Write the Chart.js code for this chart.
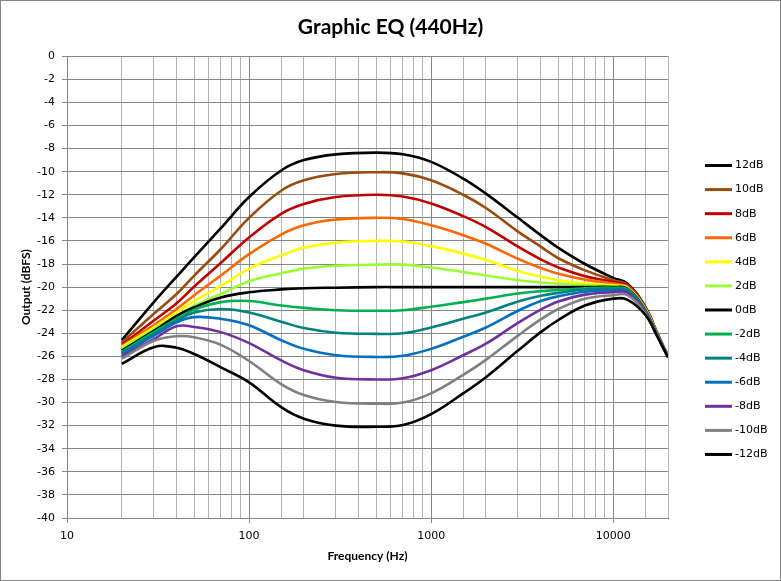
<!DOCTYPE html>
<html>
<head>
<meta charset="utf-8">
<title>Graphic EQ (440Hz)</title>
<script src="https://cdn.jsdelivr.net/npm/chart.js@4.4.1/dist/chart.umd.min.js"></script>
<style>
  html, body { margin: 0; padding: 0; background: #fff; }
  canvas { display: block; }
</style>
</head>
<body>
<canvas id="eqChart" width="781" height="581"></canvas>
<script>
// frequencies (Hz) the curves were read at
const freqs = [20, 30, 40, 50, 70, 100, 150, 200, 300, 500, 700, 1000, 1500, 2000, 3000, 4000, 5000, 7000, 10000, 12000, 15000, 17500, 20000];

const seriesNames = ['12dB', '10dB', '8dB', '6dB', '4dB', '2dB', '0dB', '-2dB', '-4dB', '-6dB', '-8dB', '-10dB', '-12dB'];

// output level (dBFS) per curve
const gain12  = [-24.6, -21.3, -19.1, -17.4, -14.9, -12.2, -9.9, -9.0, -8.5, -8.35, -8.5, -9.15, -10.6, -11.9, -14.0, -15.5, -16.6, -18.0, -19.2, -19.7, -21.7, -24.0, -26.0];
const gain10  = [-24.8, -22.3, -20.6, -19.0, -16.7, -14.0, -11.65, -10.75, -10.2, -10.05, -10.15, -10.75, -12.0, -13.15, -15.2, -16.5, -17.5, -18.55, -19.4, -19.8, -21.75, -24.05, -26.0];
const gain8   = [-25.0, -22.9, -21.4, -19.95, -17.9, -15.7, -13.65, -12.8, -12.2, -12.0, -12.15, -12.75, -13.85, -14.8, -16.5, -17.6, -18.3, -19.05, -19.55, -19.9, -21.8, -24.1, -26.0];
const gain6   = [-25.1, -23.3, -21.9, -20.7, -19.0, -17.15, -15.45, -14.65, -14.15, -14.0, -14.1, -14.65, -15.5, -16.25, -17.55, -18.35, -18.85, -19.35, -19.7, -20.0, -21.85, -24.1, -26.0];
const gain4   = [-25.2, -23.5, -22.2, -21.2, -19.9, -18.4, -17.25, -16.6, -16.15, -16.0, -16.05, -16.45, -17.1, -17.65, -18.6, -19.1, -19.4, -19.7, -19.85, -20.05, -21.9, -24.15, -26.0];
const gain2   = [-25.35, -23.65, -22.5, -21.6, -20.6, -19.5, -18.8, -18.4, -18.15, -18.05, -18.05, -18.3, -18.7, -19.0, -19.4, -19.6, -19.7, -19.85, -19.95, -20.1, -21.95, -24.15, -26.0];
const gain0   = [-25.5, -23.8, -22.5, -21.75, -20.9, -20.45, -20.2, -20.1, -20.05, -20.0, -20.0, -20.0, -20.0, -20.0, -20.0, -20.0, -20.0, -20.0, -20.0, -20.15, -22.0, -24.2, -26.0];
const gainM2  = [-25.6, -23.9, -22.75, -21.95, -21.3, -21.2, -21.6, -21.8, -22.0, -22.05, -22.0, -21.7, -21.3, -21.0, -20.55, -20.35, -20.25, -20.1, -20.05, -20.2, -22.05, -24.2, -26.0];
const gainM4  = [-25.7, -24.05, -22.9, -22.2, -21.9, -22.2, -23.0, -23.55, -23.95, -24.05, -24.0, -23.5, -22.75, -22.2, -21.25, -20.75, -20.5, -20.2, -20.15, -20.3, -22.1, -24.2, -26.0];
const gainM6  = [-25.8, -24.2, -23.05, -22.6, -22.75, -23.3, -24.6, -25.35, -25.9, -26.05, -25.95, -25.35, -24.3, -23.5, -22.05, -21.2, -20.8, -20.4, -20.3, -20.4, -22.15, -24.25, -26.0];
const gainM8  = [-26.0, -24.5, -23.4, -23.45, -23.9, -24.85, -26.35, -27.2, -27.85, -28.0, -27.9, -27.2, -25.9, -24.9, -23.1, -21.95, -21.25, -20.65, -20.45, -20.5, -22.2, -24.25, -26.0];
const gainM10 = [-26.2, -24.65, -24.25, -24.35, -25.0, -26.4, -28.4, -29.35, -29.95, -30.1, -30.0, -29.2, -27.6, -26.3, -24.2, -22.8, -21.9, -21.0, -20.7, -20.7, -22.3, -24.3, -26.05];
const gainM12 = [-26.65, -25.2, -25.25, -25.8, -26.95, -28.25, -30.4, -31.4, -32.0, -32.1, -31.95, -31.0, -29.2, -27.8, -25.5, -23.9, -22.85, -21.6, -21.0, -21.1, -22.4, -24.3, -26.1];

const xTickLabels = [10, 100, 1000, 10000];

const allSeries = [gain12, gain10, gain8, gain6, gain4, gain2, gain0, gainM2, gainM4, gainM6, gainM8, gainM10, gainM12];
const colors = ['#000000', '#9b4b0f', '#c00000', '#ff6600', '#ffff00', '#99ff33', '#000000',
                '#00b050', '#00827f', '#0070c0', '#7030a0', '#808080', '#000000'];

const datasets = allSeries.map((vals, i) => ({
  label: seriesNames[i],
  data: freqs.map((f, j) => ({ x: f, y: vals[j] })),
  borderColor: colors[i],
  backgroundColor: colors[i],
  borderWidth: 2.6,
  pointRadius: 0,
  tension: 0.4,
  order: allSeries.length - i
}));

const GRID_DARK = '#868686';
const GRID_LIGHT = '#b4b4b4';
const TICK_FONT = { family: 'DejaVu Sans', size: 11 };
const AXIS_TITLE_FONT = { family: 'Lato', size: 12, weight: 'bold' };

// white page with a thin frame, like the spreadsheet chart
const frame = {
  id: 'frame',
  beforeDraw(chart) {
    const c = chart.ctx;
    c.save();
    c.fillStyle = '#fff';
    c.fillRect(0, 0, chart.width, chart.height);
    c.strokeStyle = GRID_DARK;
    c.lineWidth = 1;
    c.strokeRect(0.5, 0.5, chart.width - 1, chart.height - 1);
    c.restore();
  }
};

// legend column on the right
const sideLegend = {
  id: 'sideLegend',
  afterDraw(chart) {
    const c = chart.ctx;
    c.save();
    c.font = '11px "DejaVu Sans"';
    c.textBaseline = 'middle';
    c.textAlign = 'left';
    chart.data.datasets.forEach((ds, i) => {
      const y = 165.5 + i * 24.08;
      c.strokeStyle = ds.borderColor;
      c.lineWidth = 3;
      c.beginPath();
      c.moveTo(705, y);
      c.lineTo(732, y);
      c.stroke();
      c.fillStyle = '#000';
      c.fillText(ds.label, 735, y);
    });
    c.restore();
  }
};

new Chart(document.getElementById('eqChart'), {
  type: 'line',
  data: { datasets: datasets },
  options: {
    responsive: false,
    animation: false,
    devicePixelRatio: 1,
    layout: { padding: 0 },
    plugins: {
      legend: { display: false },
      tooltip: { enabled: false },
      title: {
        display: true,
        text: 'Graphic EQ (440Hz)',
        color: '#000',
        font: { family: 'Lato', size: 21, weight: 'bold' },
        padding: { top: 15, bottom: 16 }
      }
    },
    scales: {
      x: {
        type: 'logarithmic',
        min: 10,
        max: 20000,
        afterFit(scale) { scale.height = 63; },
        grid: {
          color: ctx => xTickLabels.includes(ctx.tick.value) ? GRID_DARK : GRID_LIGHT,
          tickColor: ctx => xTickLabels.includes(ctx.tick.value) ? GRID_DARK : 'rgba(0,0,0,0)',
          tickLength: 5,
          lineWidth: 1
        },
        border: { color: GRID_DARK },
        ticks: {
          autoSkip: false,
          maxRotation: 0,
          padding: 7,
          color: '#000',
          font: TICK_FONT,
          callback: v => xTickLabels.includes(v) ? String(v) : ''
        },
        title: {
          display: true,
          text: 'Frequency (Hz)',
          color: '#000',
          font: AXIS_TITLE_FONT,
          padding: { top: 0, bottom: 18 }
        }
      },
      y: {
        min: -40,
        max: 0,
        afterFit(scale) { scale.width = 67; },
        grid: { color: GRID_DARK, tickColor: GRID_DARK, tickLength: 5 },
        border: { color: GRID_DARK },
        ticks: { stepSize: 2, padding: 7, color: '#000', font: TICK_FONT },
        title: {
          display: true,
          text: 'Output (dBFS)',
          color: '#000',
          font: AXIS_TITLE_FONT,
          padding: { top: 19, bottom: 0 }
        }
      },
      // empty strip on the right that holds the legend
      legendSpace: {
        type: 'linear',
        position: 'right',
        afterFit(scale) { scale.width = 113; },
        grid: { display: false },
        border: { display: false },
        ticks: { display: false }
      }
    }
  },
  plugins: [frame, sideLegend]
});
</script>
</body>
</html>
